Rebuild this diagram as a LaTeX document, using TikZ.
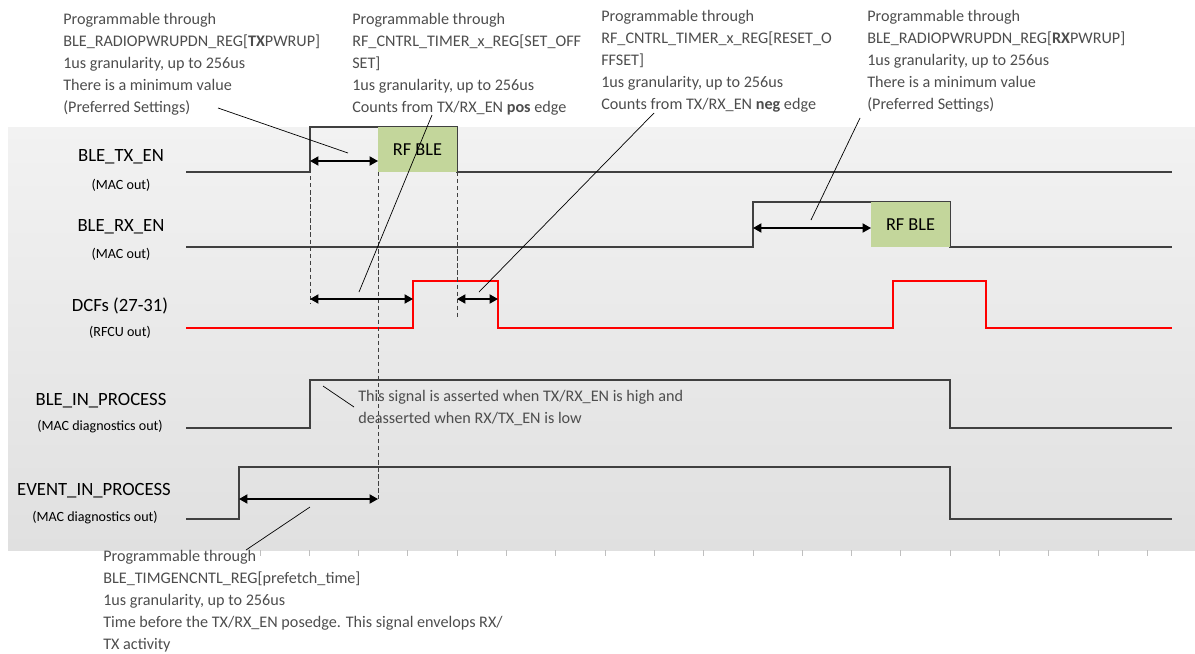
\documentclass[tikz,border=0pt]{standalone}
\usepackage{fontspec}
\setmainfont{Carlito}
\usetikzlibrary{arrows.meta,positioning}
\definecolor{ink}{HTML}{404040}
\definecolor{notegray}{HTML}{4D4D4D}
\definecolor{panetop}{HTML}{F2F2F2}
\definecolor{panebot}{HTML}{E0E0E0}
\definecolor{rfgreen}{HTML}{C3D69B}
\definecolor{dcfred}{HTML}{FF0000}
\definecolor{tickgray}{HTML}{BFBFBF}

\begin{document}
\begin{tikzpicture}[x=0.025cm,y=-0.025cm,
    font=\fontsize{11.5}{15.6}\selectfont,
    wave/.style={draw=ink,line width=0.9pt},
    dcfwave/.style={draw=dcfred,line width=1.8pt},
    span/.style={{Triangle[length=6pt,width=6.5pt]}-{Triangle[length=6pt,width=6.5pt]},line width=1pt,draw=black},
    lead/.style={draw=black,line width=0.5pt},
    guide/.style={draw=ink,dash pattern=on 3pt off 2pt,line width=0.7pt},
    signame/.style={font=\fontsize{13.3}{15}\selectfont},
    sigdir/.style={font=\fontsize{10}{11}\selectfont},
    note/.style={text=notegray,align=left,anchor=north west,inner sep=0pt},
    rf/.style={fill=rfgreen,inner sep=0pt,minimum width=1.975cm,minimum height=1.125cm,
      font=\fontsize{13}{15}\selectfont}
  ]
  \useasboundingbox (0,0) rectangle (1195,653);
  \shade[top color=panetop,bottom color=panebot] (8,127) rectangle (1195,550);
  \foreach \k in {0,...,18}
    \draw[tickgray,line width=0.6pt] (260+49.3*\k,550) -- ++(0,6);

  \node[signame] (txname) at (121,157) {BLE\_TX\_EN};
  \node[sigdir] (txdir) at (121,185) {(MAC out)};
  \node[signame] (rxname) at (121,227) {BLE\_RX\_EN};
  \node[sigdir] (rxdir) at (121,254) {(MAC out)};
  \node[signame] (dcfname) at (120,306) {DCFs (27-31)};
  \node[sigdir] (dcfdir) at (120,332) {(RFCU out)};
  \node[signame] (blename) at (101,401) {BLE\_IN\_PROCESS};
  \node[sigdir] (bledir) at (100,427) {(MAC diagnostics out)};
  \node[signame] (evtname) at (94,491) {EVENT\_IN\_PROCESS};
  \node[sigdir] (evtdir) at (95,518) {(MAC diagnostics out)};

  \draw[wave] (186,172) -- (310,172) -- (310,127) -- (457,127) -- (457,172) -- (1172,172);
  \draw[wave] (186,247) -- (753,247) -- (753,202) -- (950,202) -- (950,247) -- (1172,247);
  \draw[dcfwave] (186,328) -- (413,328) -- (413,281) -- (498,281) -- (498,328)
    -- (893,328) -- (893,281) -- (986,281) -- (986,328) -- (1172,328);
  \draw[wave] (186,428) -- (310,428) -- (310,380) -- (950,380) -- (950,428) -- (1172,428);
  \draw[wave] (186,519) -- (239,519) -- (239,467) -- (950,467) -- (950,519) -- (1172,519);

  \node[rf] (txrf) at (417.5,149.5) {RF BLE};
  \node[rf] (rxrf) at (910.5,224.5) {RF BLE};

  \coordinate (txup) at (310,127);
  \coordinate (txdown) at (310,303);
  \coordinate (rfstart) at (378,172);
  \coordinate (rfstartlow) at (378,499);
  \coordinate (rfend) at (457,172);
  \coordinate (rfendlow) at (457,319);
  \draw[guide] (txup) -- (txdown);
  \draw[guide] (rfstart) -- (rfstartlow);
  \draw[guide] (rfend) -- (rfendlow);

  \coordinate (txa) at (310,161);
  \coordinate (txb) at (378,161);
  \coordinate (rxa) at (753,228);
  \coordinate (rxb) at (871,228);
  \coordinate (seta) at (310,299);
  \coordinate (setb) at (413,299);
  \coordinate (reseta) at (457,299);
  \coordinate (resetb) at (498,299);
  \coordinate (pfa) at (239,499);
  \coordinate (pfb) at (378,499);
  \draw[span] (txa) -- (txb);
  \draw[span] (rxa) -- (rxb);
  \draw[span] (seta) -- (setb);
  \draw[span] (reseta) -- (resetb);
  \draw[span] (pfa) -- (pfb);

  \node[note] (txnote) at (63,13) {Programmable through\\
    BLE\_RADIOPWRUPDN\_REG[\textbf{TX}PWRUP]\\
    1us granularity, up to 256us\\
    There is a minimum value\\
    (Preferred Settings)};
  \node[note] (setnote) at (352,13) {Programmable through\\
    RF\_CNTRL\_TIMER\_x\_REG[SET\_OFF\\
    SET]\\
    1us granularity, up to 256us\\
    Counts from TX/RX\_EN \textbf{pos} edge};
  \node[note] (resetnote) at (601,10) {Programmable through\\
    RF\_CNTRL\_TIMER\_x\_REG[RESET\_O\\
    FFSET]\\
    1us granularity, up to 256us\\
    Counts from TX/RX\_EN \textbf{neg} edge};
  \node[note] (rxnote) at (867,10) {Programmable through\\
    BLE\_RADIOPWRUPDN\_REG[\textbf{RX}PWRUP]\\
    1us granularity, up to 256us\\
    There is a minimum value\\
    (Preferred Settings)};
  \node[note] (blenote) at (358,390) {This signal is asserted when TX/RX\_EN is high and\\
    deasserted when RX/TX\_EN is low};
  \node[note] (pfnote) at (103,550) {Programmable through\\
    BLE\_TIMGENCNTL\_REG[prefetch\_time]\\
    1us granularity, up to 256us\\
    Time before the TX/RX\_EN posedge. This signal envelops RX/\\
    TX activity};

  \coordinate (txl1) at (218,108);
  \coordinate (txl2) at (348,153);
  \coordinate (setl1) at (432,115);
  \coordinate (setl2) at (359,292);
  \coordinate (resetl1) at (654,113);
  \coordinate (resetl2) at (479,292);
  \coordinate (rxl1) at (860,118);
  \coordinate (rxl2) at (811,220);
  \coordinate (blel1) at (323,386);
  \coordinate (blel2) at (354,407);
  \coordinate (pfl1) at (310,507);
  \coordinate (pfl2) at (246,550);
  \draw[lead] (txl1) -- (txl2);
  \draw[lead] (setl1) -- (setl2);
  \draw[lead] (resetl1) -- (resetl2);
  \draw[lead] (rxl1) -- (rxl2);
  \draw[lead] (blel1) -- (blel2);
  \draw[lead] (pfl1) -- (pfl2);
\end{tikzpicture}
\end{document}
